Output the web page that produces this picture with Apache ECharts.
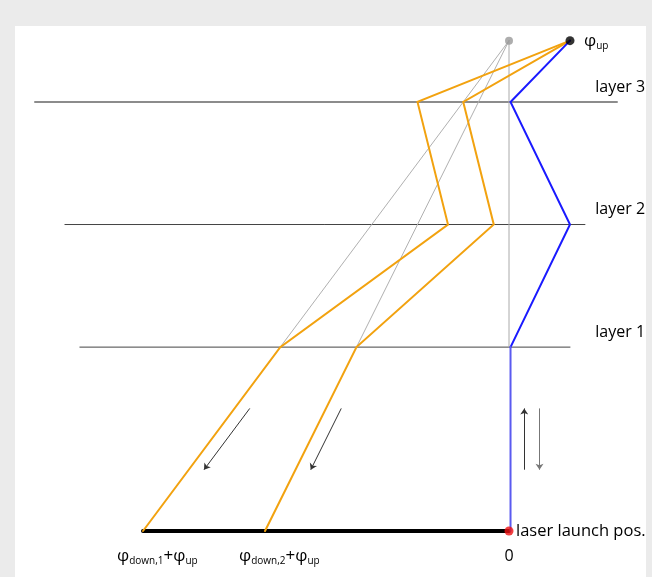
<!DOCTYPE html>
<html>
<head>
<meta charset="utf-8">
<script src="https://cdn.jsdelivr.net/npm/echarts@6/dist/echarts.min.js"></script>
<style>
  html, body { margin: 0; padding: 0; background: #ebebeb; }
  #chart { width: 652px; height: 577px; }
</style>
</head>
<body>
<div id="chart"></div>
<script>
// Geometry of the beam paths, in diagram units (x: phase offset, y: height)
const layerNames   = ['layer 1', 'layer 2', 'layer 3'];
const layerHeights = [6, 10, 14];
const layerExtents = [[-14.07, 2.0], [-14.56, 2.49], [-15.54, 3.54]];
const apexHeight   = 16;
const upSourceX    = 2;      // position of the φ_up point
const launchX      = 0;      // laser launch position

// Beam paths: top point -> layer 3 -> layer 2 -> layer 1 -> ground
const bluePath    = [[2, 16], [0.05, 14], [2, 10], [0.05, 6]];
const blueGround  = [[0.05, 6], [0.05, 0]];
const orangePath1 = [[2, 16], [-3, 14], [-2, 10], [-7.5, 6], [-12, 0]];
const orangePath2 = [[2, 16], [-1.5, 14], [-0.5, 10], [-5, 6], [-8, 0]];
const grayRays    = [[[0, 16], [-7.5, 6]], [[0, 16], [-5, 6]]];
const groundSpan  = [[-12, 0], [0, 0]];

// Direction arrows [from, to]
const slantArrows = [[[-8.5, 4], [-10, 2]], [[-5.5, 4], [-6.5, 2]]];
const upArrow     = [[0.5, 2], [0.5, 4]];
const downArrow   = [[1, 4], [1, 2]];

const FONT = 'Open Sans';
const ORANGE = '#f2a20f';
const BLUE = '#1a1aff';
const INK = '#000000';

const chart = echarts.init(document.getElementById('chart'));

function polyline(name, data, color, width, z) {
  return {
    name, type: 'line', data, z,
    symbol: 'none', silent: true, clip: false,
    lineStyle: { color, width, cap: 'round', join: 'miter' }
  };
}

const series = [];

// Layer boundaries
layerHeights.forEach((h, i) => {
  const ext = layerExtents[i];
  series.push(polyline(layerNames[i], [[ext[0], h], [ext[1], h]],
    i === 2 ? '#8c8c8c' : '#444444', i === 2 ? 2 : 1, 1));
});

// Thin reference rays from the vertical apex
series.push(polyline('vertical', [[launchX, apexHeight], [launchX, 6]], '#aaaaaa', 1, 2));
grayRays.forEach((r, i) => series.push(polyline('ray' + i, r, '#b0b0b0', 1, 2)));

// Ground baseline
series.push(polyline('ground', groundSpan, '#000000', 4, 3));

// Beam paths
series.push(polyline('down1', orangePath1, ORANGE, 2, 4));
series.push(polyline('down2', orangePath2, ORANGE, 2, 4));
series.push(polyline('up', bluePath, BLUE, 2, 5));
series.push(polyline('upGround', blueGround, '#5a5af0', 2, 5));

// Arrows
const arrowData = [];
slantArrows.forEach(a => arrowData.push({ coords: a, lineStyle: { color: '#333333' } }));
arrowData.push({ coords: upArrow, lineStyle: { color: '#333333' } });
arrowData.push({ coords: downArrow, lineStyle: { color: '#777777' } });
series.push({
  type: 'lines', coordinateSystem: 'cartesian2d', z: 6, silent: true,
  symbol: ['none', 'arrow'], symbolSize: 6,
  lineStyle: { width: 1, opacity: 1, curveness: 0 },
  data: arrowData
});

// Points
series.push({
  type: 'scatter', z: 7, silent: true, clip: false,
  data: [
    { value: [launchX, apexHeight], itemStyle: { color: '#999999' }, symbolSize: 8 },
    { value: [upSourceX, apexHeight], itemStyle: { color: '#000000' }, symbolSize: 9 },
    { value: [launchX, 0], itemStyle: { color: '#ee1111' }, symbolSize: 9 }
  ]
});

// Text annotations
const textBase = { fontFamily: FONT, color: INK, opacity: 1, textBorderWidth: 0 };
const phiRich = {
  p: { fontFamily: FONT, fontSize: 17, color: INK },
  s: { fontFamily: FONT, fontSize: 10, color: INK, padding: [10, 0, 0, 0] },
  o: { fontFamily: FONT, fontSize: 17, color: INK }
};
const annotations = [];
layerHeights.forEach((h, i) => {
  annotations.push({
    value: [4.46, h],
    label: { formatter: layerNames[i], align: 'right', offset: [0, -15], fontSize: 16, ...textBase }
  });
});
annotations.push({
  value: [upSourceX, apexHeight],
  label: { formatter: '{p|φ}{s|up}', align: 'left', offset: [14, 1], rich: phiRich, ...textBase }
});
annotations.push({
  value: [launchX, 0],
  label: { formatter: 'laser launch pos.', align: 'left', offset: [7, 0], fontSize: 16.5, ...textBase }
});
annotations.push({
  value: [launchX, 0],
  label: { formatter: '0', align: 'center', offset: [0, 25], fontSize: 16, ...textBase }
});
[[orangePath1, '1'], [orangePath2, '2']].forEach(([path, k]) => {
  const end = path[path.length - 1];
  annotations.push({
    value: end,
    label: { formatter: '{p|φ}{s|down,' + k + '}{o|+}{p|φ}{s|up}',
             align: 'left', offset: [-26, 25], rich: phiRich, ...textBase }
  });
});
series.push({
  type: 'scatter', z: 8, silent: true, clip: false,
  symbolSize: 1, itemStyle: { color: 'rgba(0,0,0,0)' },
  label: { show: true, position: 'inside', verticalAlign: 'middle', color: INK },
  data: annotations
});

chart.setOption({
  animation: false,
  backgroundColor: '#ebebeb',
  graphic: [{
    type: 'rect', z: -10, silent: true,
    shape: { x: 15, y: 26, width: 631, height: 560 },
    style: { fill: '#ffffff' }
  }],
  grid: { left: 21, right: 21, top: 10, bottom: 46 },
  xAxis: { type: 'value', min: -16, max: 4, show: false },
  yAxis: { type: 'value', min: 0, max: 17, show: false },
  series
});
</script>
</body>
</html>
